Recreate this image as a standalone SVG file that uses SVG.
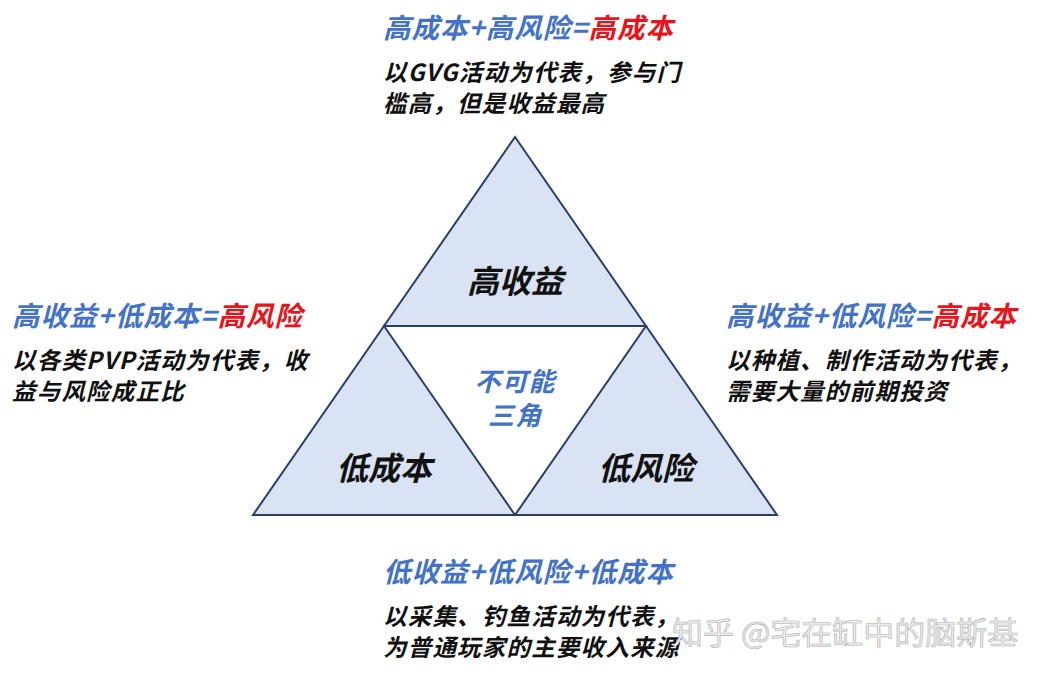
<svg xmlns="http://www.w3.org/2000/svg" width="1039" height="675" viewBox="0 0 1039 675">
<style>
text{font-family:"Noto Sans CJK SC","Liberation Sans",sans-serif;font-style:italic;font-weight:700}
.h{font-size:27.5px;fill:#4472C4;letter-spacing:1px}
.r{fill:#E8141C}
.b{font-size:23.5px;fill:#111;letter-spacing:1.2px}
.lab{font-size:32px;fill:#111;text-anchor:middle}
.ctr{font-size:26px;fill:#4472C4;text-anchor:middle;letter-spacing:1px}
.tri{fill:#DAE3F3;stroke:#2A3F68;stroke-width:2;stroke-linejoin:miter}
.wm{font-size:31px;font-style:normal;font-weight:400;fill:#ececec;stroke:#b0b0b0;stroke-width:0.6}
</style>
<rect width="1039" height="675" fill="#fff"/>
<g id="triangle">
<g id="high-return"><polygon class="tri" points="515,137 646,326 384,326"/><text class="lab" x="515" y="293">高收益</text></g>
<g id="low-cost"><polygon class="tri" points="384,326 515,515 253,515"/><text class="lab" x="384" y="480">低成本</text></g>
<g id="low-risk"><polygon class="tri" points="646,326 777,515 515,515"/><text class="lab" x="646" y="480">低风险</text></g>
<g id="impossible"><text class="ctr" x="515" y="391">不可能</text><text class="ctr" x="515" y="425">三角</text></g>
</g>
<g id="top-note">
<text class="h" x="383" y="38">高成本+高风险=<tspan class="r">高成本</tspan></text>
<text class="b" x="383" y="81">以GVG活动为代表，参与门</text>
<text class="b" x="383" y="112">槛高，但是收益最高</text>
</g>
<g id="left-note">
<text class="h" x="12" y="326">高收益+低成本=<tspan class="r">高风险</tspan></text>
<text class="b" x="12" y="369">以各类PVP活动为代表，收</text>
<text class="b" x="12" y="400">益与风险成正比</text>
</g>
<g id="right-note">
<text class="h" x="726" y="326">高收益+低风险=<tspan class="r">高成本</tspan></text>
<text class="b" x="726" y="369">以种植、制作活动为代表，</text>
<text class="b" x="726" y="400">需要大量的前期投资</text>
</g>
<g id="bottom-note">
<text class="h" x="383" y="582">低收益+低风险+低成本</text>
<text class="b" x="383" y="625">以采集、钓鱼活动为代表，</text>
<text class="b" x="383" y="656">为普通玩家的主要收入来源</text>
</g>
<g id="connectors"></g>
<text class="wm" x="672" y="644">知乎 @宅在缸中的脑斯基</text>
</svg>
